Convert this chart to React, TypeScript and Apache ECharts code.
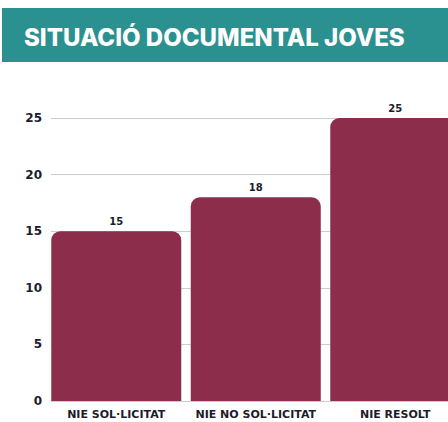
import React, { useEffect, useRef } from "react";
import * as echarts from "echarts";

const titleText = "SITUACIÓ DOCUMENTAL JOVES";
const categories = ["NIE SOL·LICITAT", "NIE NO SOL·LICITAT", "NIE RESOLT"];
const values = [15, 18, 25];
const yMin = 0;
const yMax = 25;
const yInterval = 5;

export default function App() {
  const ref = useRef<HTMLDivElement>(null);
  useEffect(() => {
    if (!ref.current) return;
    const chart = echarts.init(ref.current, null, { renderer: "svg" });
    const labelColor = "#1c1c2c";
    chart.setOption({
      animation: false,
      backgroundColor: "#ffffff",
      graphic: [
        {
          type: "rect",
          left: 2,
          top: 8,
          shape: { width: 500, height: 54 },
          style: { fill: "#2b9090" },
          z: 0,
        },
      ],
      title: {
        text: titleText,
        left: 19,
        top: 20,
        textStyle: {
          color: "#ffffff",
          fontSize: 24,
          fontWeight: 800,
          fontFamily: "Inter",
        },
      },
      grid: [
        { left: 51, top: 118, width: 430, height: 283 },
        { left: 46.5, top: 118, width: 418.5, height: 283 },
      ],
      xAxis: [
        { type: "value", gridIndex: 0, show: false, min: 0, max: 1 },
        {
          type: "category",
          gridIndex: 1,
          data: categories,
          axisLine: { show: false },
          axisTick: { show: false },
          axisLabel: {
            interval: 0,
            margin: 8,
            fontSize: 11,
            fontWeight: "bold",
            fontFamily: "DejaVu Sans",
            color: labelColor,
          },
        },
      ],
      yAxis: [
        {
          type: "value",
          gridIndex: 0,
          min: yMin,
          max: yMax,
          interval: yInterval,
          axisLine: { show: false },
          axisTick: { show: false },
          splitLine: { lineStyle: { color: "#cccccc", width: 1 } },
          axisLabel: {
            margin: 9,
            fontSize: 12,
            fontWeight: "bold",
            fontFamily: "DejaVu Sans",
            color: labelColor,
          },
        },
        {
          type: "value",
          gridIndex: 1,
          min: yMin,
          max: yMax,
          show: false,
          splitLine: { show: false },
        },
      ],
      series: [
        {
          type: "bar",
          xAxisIndex: 1,
          yAxisIndex: 1,
          data: values,
          barWidth: 130,
          itemStyle: { color: "#8b2d4b", borderRadius: [9, 9, 0, 0] },
          label: {
            show: true,
            position: "top",
            distance: 5,
            fontSize: 10,
            fontWeight: "bold",
            fontFamily: "DejaVu Sans",
            color: labelColor,
          },
        },
      ],
    });
    return () => chart.dispose();
  }, []);
  return (
    <div
      style={{
        position: "fixed",
        left: 0,
        top: 0,
        width: 448,
        height: 422,
        overflow: "hidden",
        background: "#ffffff",
      }}
    >
      <div ref={ref} style={{ width: 480, height: 422 }} />
    </div>
  );
}
